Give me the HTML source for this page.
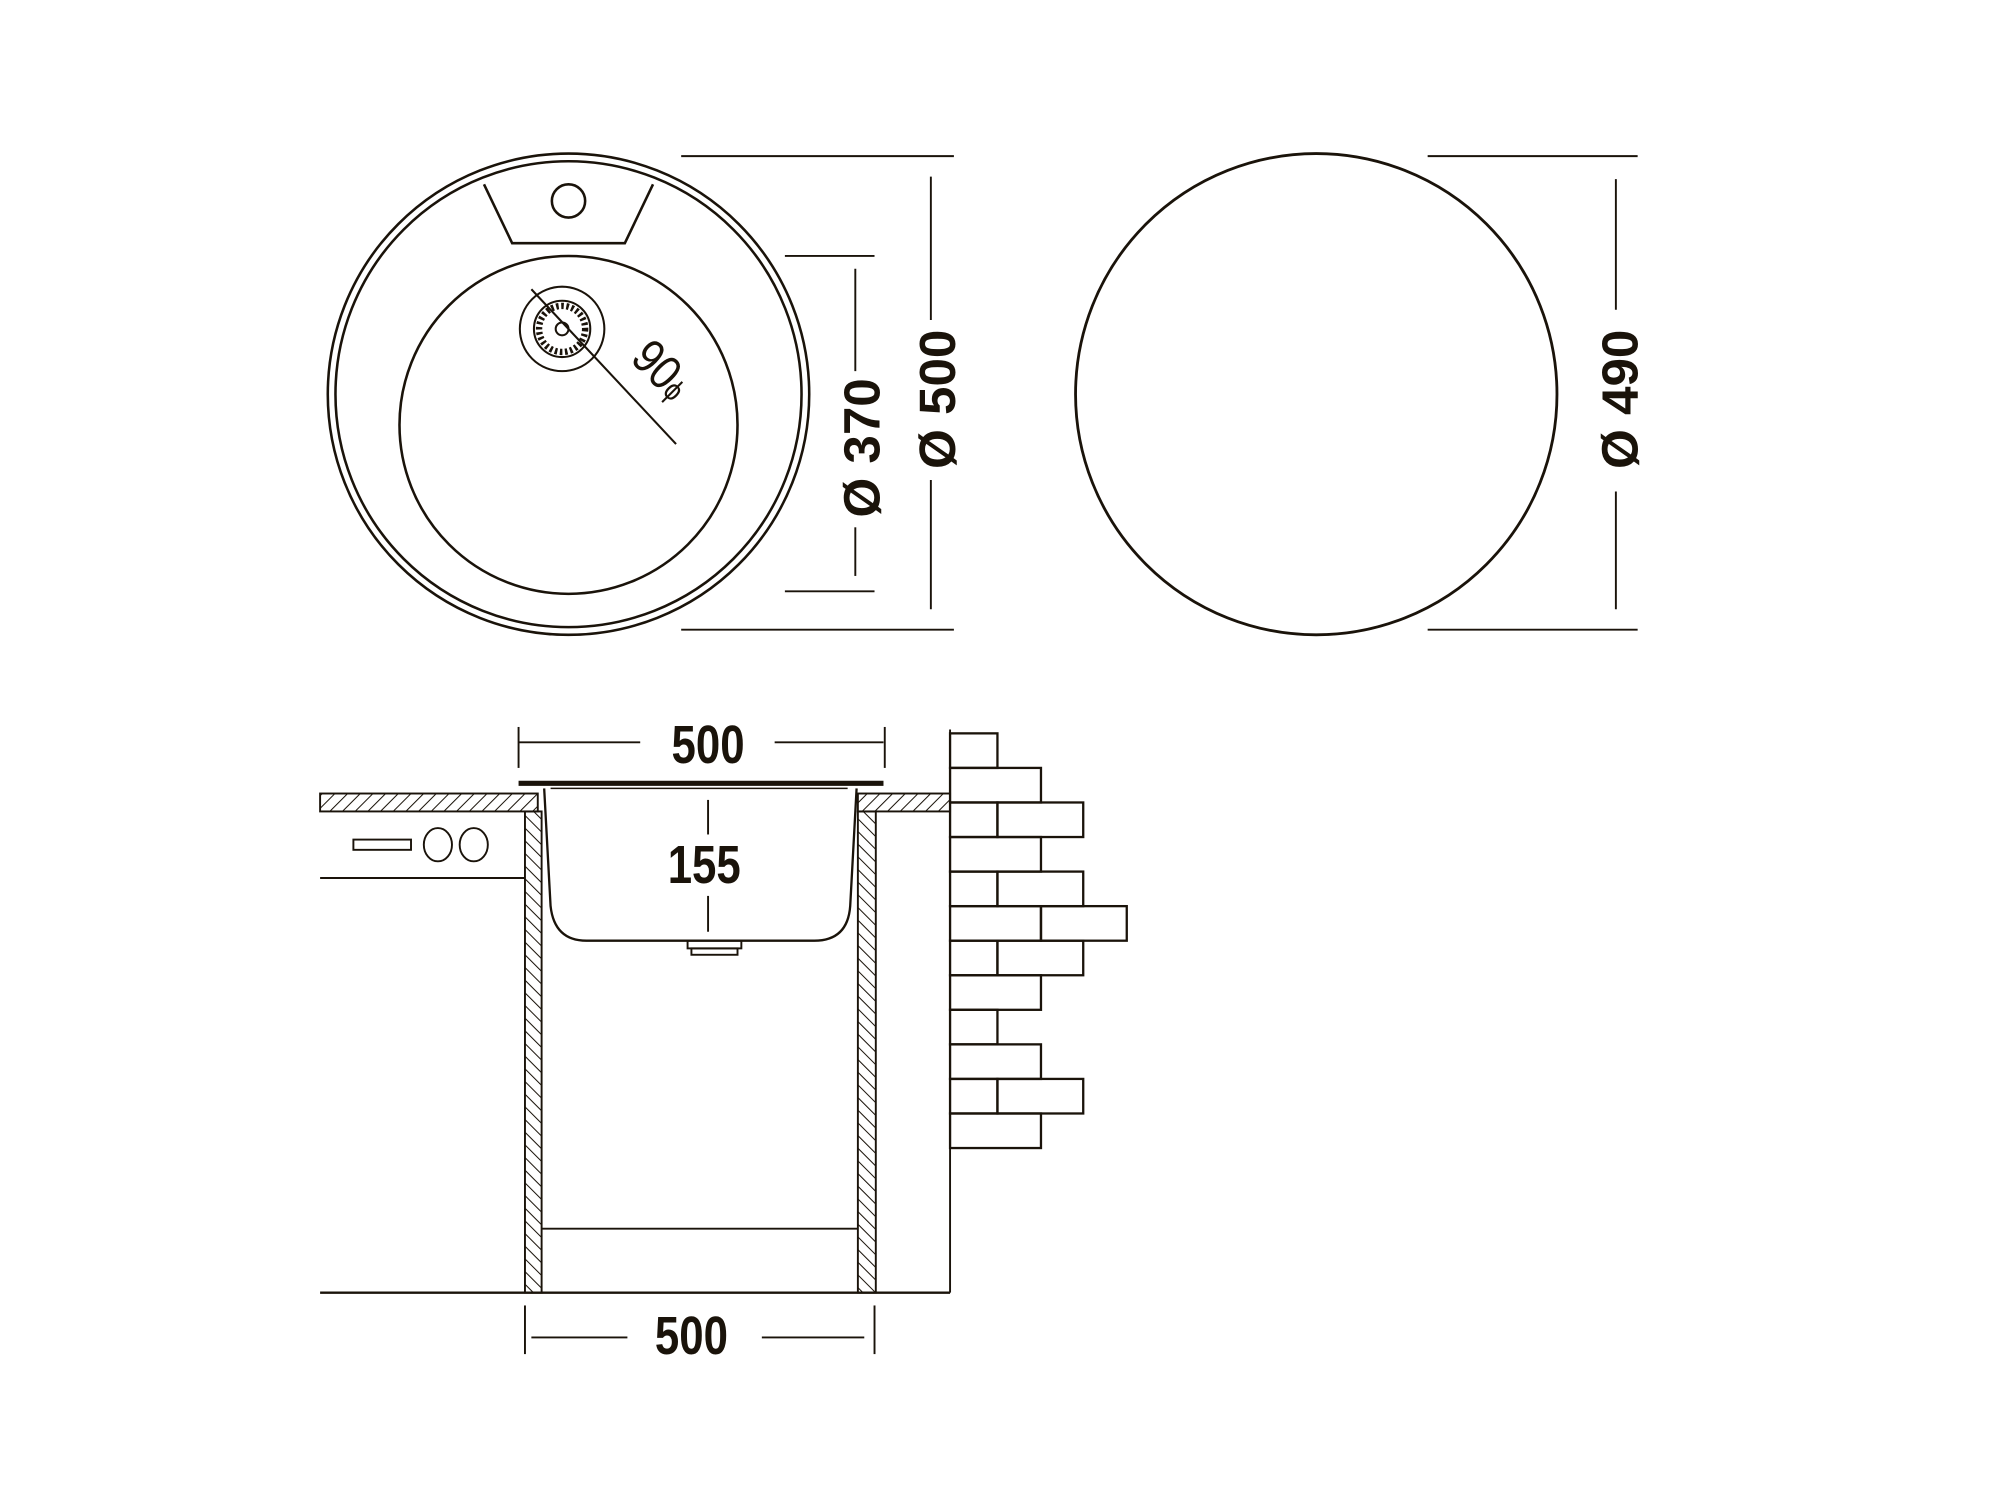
<!DOCTYPE html>
<html><head><meta charset="utf-8"><style>html,body{margin:0;padding:0;background:#fff}svg{display:block}</style></head><body>
<svg width="2000" height="1500" viewBox="0 0 1562 1172" preserveAspectRatio="none" xmlns="http://www.w3.org/2000/svg">
<defs>
<pattern id="h" width="7" height="7" patternUnits="userSpaceOnUse" patternTransform="rotate(45)">
<line x1="0" y1="0" x2="0" y2="7" stroke="#1a130a" stroke-width="1.6"/>
</pattern>
<pattern id="h2" width="7" height="7" patternUnits="userSpaceOnUse" patternTransform="rotate(-45)">
<line x1="0" y1="0" x2="0" y2="7" stroke="#1a130a" stroke-width="1.6"/>
</pattern>
</defs>
<g fill="none" stroke="#1a130a" stroke-width="2">
<circle cx="444" cy="308" r="188"/>
<circle cx="444" cy="308" r="182"/>
<circle cx="444" cy="332" r="132"/>
<path d="M378 144 L400 190 L488 190 L510 144"/>
<circle cx="444" cy="157" r="13"/>
<circle cx="439" cy="257" r="33" stroke-width="1.6"/>
<circle cx="439" cy="257" r="22" stroke-width="1.6"/>
<circle cx="439" cy="257" r="18" stroke-width="5" stroke-dasharray="2 2"/>
<circle cx="439" cy="257" r="5" stroke-width="1.6"/>
<line x1="415" y1="226" x2="528" y2="347" stroke-width="1.6"/>
<line x1="532" y1="122" x2="745" y2="122" stroke-width="1.5"/>
<line x1="532" y1="492" x2="745" y2="492" stroke-width="1.5"/>
<line x1="727" y1="138" x2="727" y2="250" stroke-width="1.5"/>
<line x1="727" y1="375" x2="727" y2="476" stroke-width="1.5"/>
<line x1="613" y1="200" x2="683" y2="200" stroke-width="1.5"/>
<line x1="613" y1="462" x2="683" y2="462" stroke-width="1.5"/>
<line x1="668" y1="210" x2="668" y2="290" stroke-width="1.5"/>
<line x1="668" y1="412" x2="668" y2="450" stroke-width="1.5"/>
<circle cx="1028" cy="308" r="188" stroke-width="2.2"/>
<line x1="1115" y1="122" x2="1279" y2="122" stroke-width="1.5"/>
<line x1="1115" y1="492" x2="1279" y2="492" stroke-width="1.5"/>
<line x1="1262" y1="140" x2="1262" y2="242" stroke-width="1.5"/>
<line x1="1262" y1="384" x2="1262" y2="476" stroke-width="1.5"/>
<line x1="405" y1="568" x2="405" y2="600" stroke-width="1.5"/>
<line x1="691" y1="568" x2="691" y2="600" stroke-width="1.5"/>
<line x1="405" y1="580" x2="500" y2="580" stroke-width="1.5"/>
<line x1="605" y1="580" x2="690" y2="580" stroke-width="1.5"/>
<line x1="410" y1="1020" x2="410" y2="1058" stroke-width="1.5"/>
<line x1="683" y1="1020" x2="683" y2="1058" stroke-width="1.5"/>
<line x1="415" y1="1045" x2="490" y2="1045" stroke-width="1.5"/>
<line x1="595" y1="1045" x2="675" y2="1045" stroke-width="1.5"/>
<line x1="553" y1="625" x2="553" y2="652" stroke-width="1.5"/>
<line x1="553" y1="700" x2="553" y2="728" stroke-width="1.5"/>
<rect x="250" y="620" width="170" height="14" fill="url(#h)" stroke-width="1.5"/>
<rect x="670" y="620" width="72" height="14" fill="url(#h)" stroke-width="1.5"/>
<rect x="410" y="634" width="13" height="376" fill="url(#h2)" stroke-width="1.5"/>
<rect x="670" y="634" width="14" height="376" fill="url(#h2)" stroke-width="1.5"/>
<line x1="423" y1="960" x2="670" y2="960" stroke-width="1.5"/>
<line x1="250" y1="1010" x2="742" y2="1010" stroke-width="1.8"/>
<line x1="742" y1="570" x2="742" y2="1010" stroke-width="1.5"/>
<line x1="250" y1="686" x2="410" y2="686" stroke-width="1.5"/>
<rect x="276" y="656" width="45" height="8" stroke-width="1.5"/>
<ellipse cx="342" cy="660" rx="11" ry="13" stroke-width="1.5"/>
<ellipse cx="370" cy="660" rx="11" ry="13" stroke-width="1.5"/>
<path d="M425 616 L430 708 Q433 735 458 735 L636 735 Q662 735 664 708 L669 616" stroke-width="1.8"/>
<line x1="405" y1="612" x2="690" y2="612" stroke-width="4"/>
<line x1="430" y1="616" x2="662" y2="616" stroke-width="1.2"/>
<rect x="537" y="735" width="42" height="6" stroke-width="1.5"/>
<rect x="540" y="741" width="36" height="5" stroke-width="1.5"/>
<g stroke-width="1.8">
<rect x="742" y="573" width="37" height="27"/>
<rect x="742" y="600" width="71" height="27"/>
<rect x="742" y="627" width="37" height="27"/><rect x="779" y="627" width="67" height="27"/>
<rect x="742" y="654" width="71" height="27"/>
<rect x="742" y="681" width="37" height="27"/><rect x="779" y="681" width="67" height="27"/>
<rect x="742" y="708" width="71" height="27"/><rect x="813" y="708" width="67" height="27"/>
<rect x="742" y="735" width="37" height="27"/><rect x="779" y="735" width="67" height="27"/>
<rect x="742" y="762" width="71" height="27"/>
<rect x="742" y="789" width="37" height="27"/>
<rect x="742" y="816" width="71" height="27"/>
<rect x="742" y="843" width="37" height="27"/><rect x="779" y="843" width="67" height="27"/>
<rect x="742" y="870" width="71" height="27"/>
</g>
</g>
<g fill="#1a130a" font-family="Liberation Sans, sans-serif" font-weight="bold" font-size="38" text-anchor="middle">
<text transform="translate(553,596) scale(0.9,1.1)">500</text>
<text transform="translate(550,690) scale(0.9,1.1)">155</text>
<text transform="translate(540,1058) scale(0.9,1.1)">500</text>
<text transform="translate(746,312) rotate(-90)" font-size="40">Ø 500</text>
<text transform="translate(687,350) rotate(-90)" font-size="40">Ø 370</text>
<text transform="translate(1279,312) rotate(-90)" font-size="40">Ø 490</text>
</g>
<text transform="translate(508,298) rotate(45) scale(0.85,1)" font-family="Liberation Sans, sans-serif" font-size="38" fill="#1a130a" text-anchor="middle">90<tspan font-size="24">ϕ</tspan></text>
</svg>
</body></html>
